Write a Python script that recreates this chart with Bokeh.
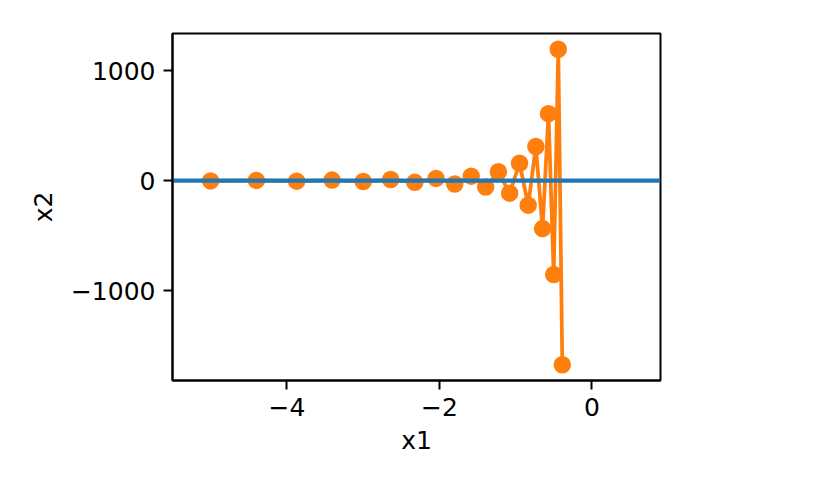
from bokeh.plotting import figure
from bokeh.models import Range1d, FixedTicker
from bokeh.embed import file_html
from bokeh.resources import INLINE

# Gradient descent trajectory (x1, x2)
trace_x1 = [-5.0, -4.4, -3.872, -3.40736, -2.99848, -2.63866, -2.32202, -2.04338,
            -1.79817, -1.58239, -1.39250, -1.22540, -1.07836, -0.94895, -0.83508,
            -0.73487, -0.64668, -0.56908, -0.50079, -0.44070, -0.38781]
trace_x2 = [-2.0, 2.8, -3.92, 5.488, -7.6832, 10.7565, -15.0591, 21.0827, -29.5158,
            41.3221, -57.8509, 80.9913, -113.388, 158.743, -222.240, 311.136,
            -435.591, 609.827, -853.758, 1195.26, -1673.37]

# Contour of the objective (collapsed to a line at this scale)
contour_x1 = [-5.5, 0.9]
contour_x2 = [0.0, 0.0]

x_ticks = [-4, -2, 0]
x_tick_labels = ["\u22124", "\u22122", "0"]
y_ticks = [-1000, 0, 1000]
y_tick_labels = ["\u22121000", "0", "1000"]

ymin, ymax = min(trace_x2), max(trace_x2)
pad = 0.05 * (ymax - ymin)

p = figure(width=808, height=479, output_backend="svg", toolbar_location=None,
           x_range=Range1d(contour_x1[0], contour_x1[1]),
           y_range=Range1d(ymin - pad, ymax + pad),
           min_border_left=172, min_border_right=148,
           min_border_top=33, min_border_bottom=99)

p.line(trace_x1, trace_x2, line_color="#ff7f0e", line_width=3.75)
p.scatter(trace_x1, trace_x2, size=15, fill_color="#ff7f0e",
          line_color="#ff7f0e", line_width=2.5)
p.line(contour_x1, contour_x2, line_color="#1f77b4", line_width=4.3)

p.grid.visible = False
p.outline_line_color = "black"
p.outline_line_width = 2
p.background_fill_color = "white"
p.border_fill_color = "white"

p.xaxis.ticker = FixedTicker(ticks=x_ticks)
p.yaxis.ticker = FixedTicker(ticks=y_ticks)
p.xaxis.major_label_overrides = dict(zip(x_ticks, x_tick_labels))
p.yaxis.major_label_overrides = dict(zip(y_ticks, y_tick_labels))
p.xaxis.axis_label = "x1"
p.yaxis.axis_label = "x2"

for ax in (p.xaxis, p.yaxis):
    ax.axis_line_color = "black"
    ax.axis_line_width = 2
    ax.major_tick_line_width = 2
    ax.major_tick_line_color = "black"
    ax.major_tick_out = 9
    ax.major_tick_in = 0
    ax.minor_tick_line_color = None
    ax.major_label_standoff = 8
    ax.major_label_text_font = "DejaVu Sans"
    ax.major_label_text_font_size = "25px"
    ax.major_label_text_color = "black"
    ax.axis_label_text_font = "DejaVu Sans"
    ax.axis_label_text_font_size = "25px"
    ax.axis_label_text_font_style = "normal"
    ax.axis_label_text_color = "black"

p.xaxis.axis_label_standoff = 7
p.yaxis.axis_label_standoff = 10

open("out.html", "w").write(file_html(p, INLINE))
